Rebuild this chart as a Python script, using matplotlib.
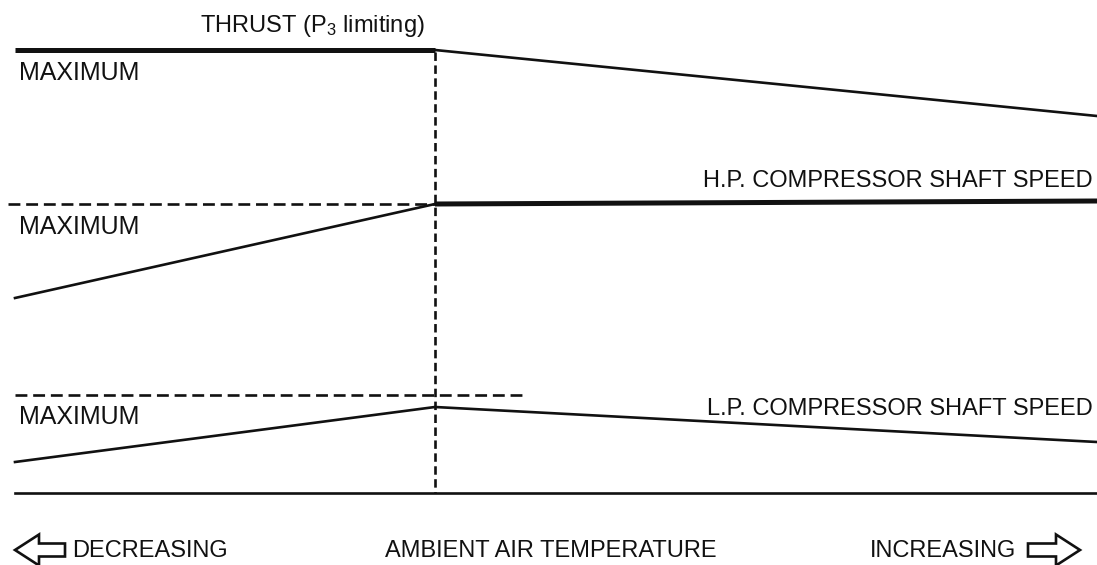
import matplotlib
matplotlib.use("Agg")
import matplotlib.pyplot as plt
from matplotlib.patches import FancyArrow

# schematic (x: ambient temperature, y: level, screen units)
temp_x = [15, 435, 1097]          # cold end, P3-limit break point, hot end
thrust_y = [50, 50, 116]
hp_speed_y = [298, 204, 201]
lp_speed_y = [462, 407, 442]

hp_max_x = [8, 435]
hp_max_y = 204
lp_max_x = [15, 522]
lp_max_y = 395
base_x = [15, 1097]
base_y = 493

plt.rcParams['font.family'] = ['Liberation Sans', 'DejaVu Sans']
plt.rcParams['mathtext.fontset'] = 'custom'
plt.rcParams['mathtext.rm'] = 'Liberation Sans'
plt.rcParams['mathtext.it'] = 'Liberation Sans:italic'

ink = '#111111'
thick = 3.6
thin = 1.9
dash_lw = 1.9

fig = plt.figure(figsize=(10.97, 5.65), dpi=100)
ax = fig.add_axes([0, 0, 1, 1])
ax.set_xlim(0, 1097)
ax.set_ylim(565, 0)
ax.axis('off')

# thrust: flat (P3 limited) then falling
ax.plot(temp_x[:2], thrust_y[:2], color=ink, lw=thick, solid_capstyle='butt')
ax.plot(temp_x[1:], thrust_y[1:], color=ink, lw=thin)

# H.P. shaft speed: rising, then held at maximum
ax.plot(hp_max_x, [hp_max_y, hp_max_y], color=ink, lw=dash_lw, dashes=(4.5, 2.2))
ax.plot(temp_x[:2], hp_speed_y[:2], color=ink, lw=thin)
ax.plot(temp_x[1:], hp_speed_y[1:], color=ink, lw=thick, solid_capstyle='butt')

# L.P. shaft speed: rising then falling
ax.plot(lp_max_x, [lp_max_y, lp_max_y], color=ink, lw=dash_lw, dashes=(4.5, 2.2))
ax.plot(temp_x, lp_speed_y, color=ink, lw=thin)

# break point and base line
ax.plot([temp_x[1], temp_x[1]], [thrust_y[1] + 2, base_y], color=ink, lw=dash_lw,
        dashes=(3.2, 1.7))
ax.plot(base_x, [base_y, base_y], color=ink, lw=thin)

fs = 17
ax.text(200, 32, 'THRUST (P$_3$ limiting)', fontsize=fs, color=ink, va='baseline')
for y in [80, 234, 424]:
    ax.text(19, y, 'MAXIMUM', fontsize=18, color=ink, va='baseline')
ax.text(1093, 187, 'H.P. COMPRESSOR SHAFT SPEED', fontsize=fs, color=ink,
        ha='right', va='baseline')
ax.text(1093, 415, 'L.P. COMPRESSOR SHAFT SPEED', fontsize=fs, color=ink,
        ha='right', va='baseline')

# bottom axis description
ax.text(72, 557, 'DECREASING', fontsize=fs, color=ink, va='baseline')
ax.text(551, 557, 'AMBIENT AIR TEMPERATURE', fontsize=fs, color=ink,
        ha='center', va='baseline')
ax.text(1016, 557, 'INCREASING', fontsize=fs, color=ink, ha='right', va='baseline')

arrow_kw = dict(width=13, head_width=31, head_length=24, length_includes_head=True,
                facecolor='white', edgecolor=ink, lw=1.9)
ax.add_patch(FancyArrow(65, 550, -50, 0, **arrow_kw))
ax.add_patch(FancyArrow(1028, 550, 52, 0, **arrow_kw))

plt.savefig('out.png', dpi=100)
